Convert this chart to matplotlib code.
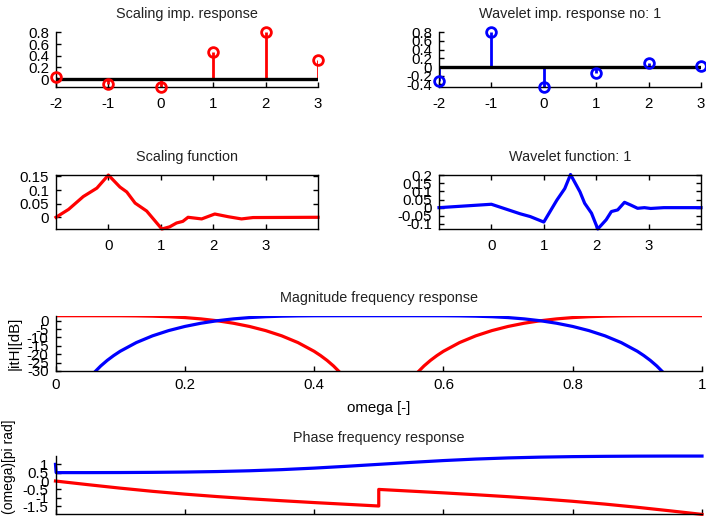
import matplotlib
matplotlib.use("Agg")
import matplotlib.pyplot as plt
import numpy as np

plt.rcParams['font.family'] = ['Liberation Sans', 'DejaVu Sans']
plt.rcParams['font.size'] = 10
plt.rcParams['axes.unicode_minus'] = False

# ---------------- data ----------------
n_idx = [-2, -1, 0, 1, 2, 3]
h_scaling = [0.0352, -0.0854, -0.1350, 0.4599, 0.8069, 0.3327]
g_wavelet = [-0.3327, 0.8069, -0.4599, -0.1350, 0.0854, 0.0352]

phi_x = [-1, -0.76, -0.48, -0.22, 0, 0.22, 0.35, 0.51, 0.73, 1.02, 1.17, 1.30,
         1.42, 1.52, 1.78, 2.03, 2.29, 2.54, 2.76, 4.0]
phi_y = [0.0, 0.029, 0.076, 0.107, 0.155, 0.111, 0.093, 0.052, 0.023, -0.043,
         -0.035, -0.021, -0.015, 0.0, -0.006, 0.012, 0.002, -0.006, -0.001, 0.0]

psi_x = [-1, 0, 0.55, 0.74, 1.0, 1.25, 1.40, 1.51, 1.69, 1.78, 1.91, 2.03, 2.19,
         2.29, 2.41, 2.54, 2.66, 2.79, 2.92, 3.04, 3.29, 4.0]
psi_y = [0.0, 0.021, -0.038, -0.055, -0.089, 0.047, 0.118, 0.205, 0.098, 0.027,
         -0.034, -0.132, -0.075, -0.024, -0.014, 0.033, 0.016, -0.004, 0.0,
         -0.005, 0.0, 0.0]

mag_lo_x = [0, 0.05, 0.1, 0.125, 0.15, 0.175, 0.2, 0.225, 0.25, 0.275, 0.3, 0.325,
            0.35, 0.375, 0.4, 0.41, 0.42, 0.43, 0.44, np.nan,
            0.56, 0.57, 0.58, 0.59, 0.6, 0.625, 0.65, 0.675, 0.7, 0.725, 0.75,
            0.775, 0.8, 0.825, 0.85, 0.875, 0.9, 0.95, 1.0]
mag_lo_db = [3.01, 3.01, 2.98, 2.90, 2.73, 2.41, 1.89, 1.10, 0.0, -1.48, -3.41, -5.88,
             -9.02, -13.03, -18.23, -20.78, -23.66, -26.98, -30.86, np.nan,
             -30.86, -26.98, -23.66, -20.78, -18.23, -13.03, -9.02, -5.88, -3.41,
             -1.48, 0.0, 1.10, 1.89, 2.41, 2.73, 2.90, 2.98, 3.01, 3.01]
mag_hi_x = [0.06, 0.07, 0.08, 0.09, 0.1, 0.125, 0.15, 0.175, 0.2, 0.225, 0.25, 0.275,
            0.3, 0.325, 0.35, 0.375, 0.4, 0.45, 0.5, 0.55, 0.6, 0.625, 0.65, 0.675,
            0.7, 0.725, 0.75, 0.775, 0.8, 0.825, 0.85, 0.875, 0.9, 0.91, 0.92, 0.93, 0.94]
mag_hi_db = [-30.86, -26.98, -23.66, -20.78, -18.23, -13.03, -9.02, -5.88, -3.41, -1.48,
             0.0, 1.10, 1.89, 2.41, 2.73, 2.90, 2.98, 3.01, 3.01, 3.01, 2.98, 2.90,
             2.73, 2.41, 1.89, 1.10, 0.0, -1.48, -3.41, -5.88, -9.02, -13.03, -18.23,
             -20.78, -23.66, -26.98, -30.86]

ph_lo_x = [0, 0.05, 0.1, 0.15, 0.2, 0.25, 0.3, 0.35, 0.4, 0.45, 0.5, 0.5, 0.55, 0.6,
           0.65, 0.7, 0.75, 0.8, 0.85, 0.9, 0.95, 1.0]
ph_lo = [0.0, -0.217, -0.426, -0.617, -0.785, -0.932, -1.062, -1.180, -1.291, -1.394,
         -1.497, -0.503, -0.606, -0.709, -0.820, -0.938, -1.068, -1.215, -1.383,
         -1.574, -1.783, -2.0]
ph_hi_x = [0, 0.001, 0.05, 0.1, 0.15, 0.2, 0.25, 0.3, 0.35, 0.4, 0.45, 0.5, 0.55, 0.6,
           0.65, 0.7, 0.75, 0.8, 0.85, 0.9, 0.95, 1.0]
ph_hi = [1.0, 0.504, 0.504, 0.509, 0.520, 0.538, 0.568, 0.615, 0.683, 0.774, 0.883, 1.0,
         1.117, 1.226, 1.317, 1.385, 1.432, 1.462, 1.480, 1.491, 1.496, 1.496]

RED = '#ff0000'
BLUE = '#0000ff'
TITLE_C = '#222222'
TICK_FS = 10.8
TITLE_FS = 10.4

W, H = 706, 516
fig = plt.figure(figsize=(W / 100, H / 100), dpi=100)


def add_ax(l, t, r, b):
    return fig.add_axes([l / W, 1 - b / H, (r - l) / W, (b - t) / H])


def style(ax, box=False, xpad=7.5):
    for s in ['top', 'right']:
        ax.spines[s].set_visible(box)
    for s in ax.spines.values():
        s.set_linewidth(1.0)
    ax.tick_params(direction='in', length=3.5, width=1, colors='black',
                   labelsize=TICK_FS, top=box, right=box)
    ax.tick_params(axis='y', pad=5)
    ax.tick_params(axis='x', pad=xpad)


def stem(ax, n, v, color, ticks, ylim, title):
    ax.plot([n[0], n[-1]], [0, 0], color='black', lw=2.4, zorder=3)
    ax.vlines(n, 0, v, color=color, lw=2.0, zorder=2)
    ax.plot(n, v, 'o', mfc='none', mec=color, mew=2.0, ms=7, clip_on=False, zorder=4)
    ax.set_xlim(n[0], n[-1])
    ax.set_ylim(*ylim)
    ax.set_xticks(n)
    ax.set_yticks(ticks)
    ax.set_yticklabels([('%g' % t) for t in ticks])
    style(ax)
    ax.set_title(title, color=TITLE_C, fontsize=TITLE_FS, pad=10)


ax1 = add_ax(56, 32, 318, 87)
stem(ax1, n_idx, h_scaling, RED, [0, 0.2, 0.4, 0.6, 0.8], (-0.135, 0.807),
     'Scaling imp. response')
ax2 = add_ax(439, 32, 701, 87)
stem(ax2, n_idx, g_wavelet, BLUE, [-0.4, -0.2, 0, 0.2, 0.4, 0.6, 0.8], (-0.46, 0.807),
     'Wavelet imp. response no: 1')

ax3 = add_ax(56, 174.5, 318, 229)
ax3.plot(phi_x, phi_y, color=RED, lw=2.3, clip_on=False)
ax3.set_xlim(phi_x[0], phi_x[-1])
ax3.set_ylim(-0.043, 0.157)
ax3.set_xticks([0, 1, 2, 3])
ax3.set_yticks([0, 0.05, 0.1, 0.15])
ax3.set_yticklabels(['0', '0.05', '0.1', '0.15'])
style(ax3, box=True)
ax3.set_title('Scaling function', color=TITLE_C, fontsize=TITLE_FS, pad=10)

ax4 = add_ax(439, 174.5, 701, 229)
ax4.plot(psi_x, psi_y, color=BLUE, lw=2.3, clip_on=False)
ax4.set_xlim(psi_x[0], psi_x[-1])
ax4.set_ylim(-0.132, 0.205)
ax4.set_xticks([0, 1, 2, 3])
yt4 = [-0.1, -0.05, 0, 0.05, 0.1, 0.15, 0.2]
ax4.set_yticks(yt4)
ax4.set_yticklabels([('%g' % t) for t in yt4])
style(ax4, box=True)
ax4.set_title('Wavelet function: 1', color=TITLE_C, fontsize=TITLE_FS, pad=10)

ax5 = add_ax(55.5, 315.7, 702, 371)
ax5.plot(mag_lo_x, mag_lo_db, color=RED, lw=2.3)
ax5.plot(mag_hi_x, mag_hi_db, color=BLUE, lw=2.3)
ax5.set_xlim(0, 1)
ax5.set_ylim(-30, 3.01)
ax5.set_xticks([0, 0.2, 0.4, 0.6, 0.8, 1])
ax5.set_xticklabels(['0', '0.2', '0.4', '0.6', '0.8', '1'])
yt5 = [-30, -25, -20, -15, -10, -5, 0]
ax5.set_yticks(yt5)
ax5.set_yticklabels([str(t) for t in yt5])
style(ax5, xpad=5)
ax5.set_title('Magnitude frequency response', color=TITLE_C, fontsize=TITLE_FS, pad=10)
ax5.set_xlabel('omega [-]', fontsize=TICK_FS)
ax5.xaxis.set_label_coords(0.5, -0.67)
ax5.xaxis.label.set_verticalalignment('center')
ax5.set_ylabel('|itH|[dB]', fontsize=TICK_FS)
ax5.yaxis.set_label_coords(-0.0626, 0.5)
ax5.yaxis.label.set_verticalalignment('center')

ax6 = add_ax(55.5, 456, 702, 514.4)
ax6.plot(ph_hi_x, ph_hi, color=BLUE, lw=2.3, clip_on=False)
ax6.plot(ph_lo_x, ph_lo, color=RED, lw=2.3, clip_on=False)
ax6.set_xlim(0, 1)
ax6.set_ylim(-2, 1.5)
ax6.set_xticks([0, 0.2, 0.4, 0.6, 0.8, 1])
yt6 = [-1.5, -1, -0.5, 0, 0.5, 1]
ax6.set_yticks(yt6)
ax6.set_yticklabels([('%g' % t) for t in yt6])
style(ax6)
ax6.tick_params(axis='x', labelbottom=False)
ax6.set_title('Phase frequency response', color=TITLE_C, fontsize=TITLE_FS, pad=10)
fig.text(9 / W, 1 - 420 / H, '(omega)[pi rad]', rotation=90, ha='center', va='top',
         fontsize=10)

fig.savefig('out.png', dpi=100)
